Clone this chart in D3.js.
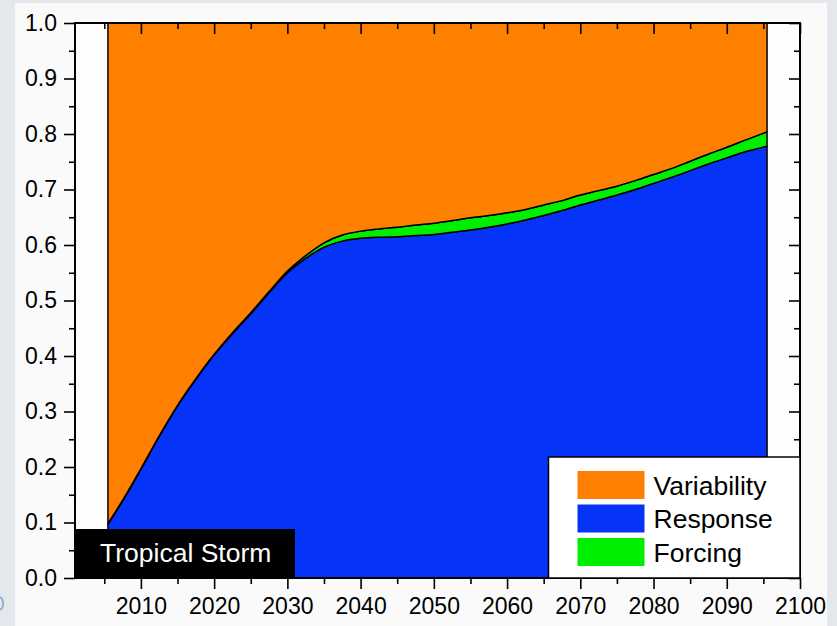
<!DOCTYPE html>
<html>
<head>
<meta charset="utf-8">
<script src="https://cdn.jsdelivr.net/npm/d3@7"></script>
<style>
  html, body { margin: 0; padding: 0; background: #e4e8ed; }
  svg { display: block; font-family: "Liberation Sans", Arial, sans-serif; }
</style>
</head>
<body>
<svg id="chart" width="837" height="626"></svg>
<script>
// Fraction of total uncertainty explained by each source, centred decades
const years = [2005.5, 2008, 2010, 2012.5, 2015, 2017.5, 2020, 2022.5, 2025, 2027.5,
  2030, 2032.5, 2035, 2037.5, 2040, 2042.5, 2045, 2047.5, 2050, 2052.5,
  2055, 2057.5, 2060, 2062.5, 2065, 2067.5, 2070, 2072.5, 2075, 2077.5,
  2080, 2082.5, 2085, 2087.5, 2090, 2092.5, 2095.5];

const response = [0.097, 0.150, 0.196, 0.255, 0.310, 0.358, 0.402, 0.440, 0.476, 0.514,
  0.550, 0.576, 0.596, 0.607, 0.612, 0.614, 0.615, 0.617, 0.619, 0.623,
  0.627, 0.632, 0.638, 0.645, 0.653, 0.662, 0.672, 0.681, 0.690, 0.700,
  0.711, 0.722, 0.734, 0.746, 0.757, 0.768, 0.778];

const forcing = [0.001, 0.001, 0.001, 0.001, 0.001, 0.001, 0.001, 0.002, 0.002, 0.002,
  0.003, 0.005, 0.008, 0.011, 0.013, 0.015, 0.017, 0.019, 0.020, 0.021,
  0.022, 0.021, 0.020, 0.019, 0.019, 0.018, 0.018, 0.017, 0.016, 0.016,
  0.016, 0.016, 0.017, 0.018, 0.019, 0.021, 0.026];

const variability = [0.902, 0.849, 0.803, 0.744, 0.689, 0.641, 0.597, 0.558, 0.522, 0.484,
  0.447, 0.419, 0.396, 0.382, 0.375, 0.371, 0.368, 0.364, 0.361, 0.356,
  0.351, 0.347, 0.342, 0.336, 0.328, 0.320, 0.310, 0.302, 0.294, 0.284,
  0.273, 0.262, 0.249, 0.236, 0.224, 0.211, 0.196];

const seriesNames = ["Response", "Forcing", "Variability"];
const legendOrder = ["Variability", "Response", "Forcing"];
const colors = { Variability: "#ff8000", Response: "#0533f7", Forcing: "#00ee00" };

const yTicks = [0.0, 0.1, 0.2, 0.3, 0.4, 0.5, 0.6, 0.7, 0.8, 0.9, 1.0];
const xTicks = [2010, 2020, 2030, 2040, 2050, 2060, 2070, 2080, 2090, 2100];
const panelLabel = "Tropical Storm";

const rows = years.map((yr, i) => ({
  year: yr, Response: response[i], Forcing: forcing[i], Variability: variability[i]
}));

const svg = d3.select("#chart");
const plot = { left: 75, right: 800, top: 23, bottom: 578 };

const x = d3.scaleLinear().domain([2001, 2100]).range([plot.left, plot.right]);
const y = d3.scaleLinear().domain([0, 1]).range([plot.bottom, plot.top]);

// page panel
svg.append("rect").attr("x", 15).attr("y", 3).attr("width", 812).attr("height", 623)
  .attr("fill", "#fafafa");
// small ring fragment at the left page edge
svg.append("path").attr("d", "M0,597 A5,7 0 0 1 0,610")
  .attr("fill", "none").attr("stroke", "#8fb3d9").attr("stroke-width", 2);

// plot background
svg.append("rect").attr("x", plot.left).attr("y", plot.top)
  .attr("width", plot.right - plot.left).attr("height", plot.bottom - plot.top)
  .attr("fill", "#fdfdfd");

// stacked areas
const stacked = d3.stack().keys(seriesNames)(rows);
const area = d3.area()
  .x(d => x(d.data.year))
  .y0(d => y(d[0]))
  .y1(d => y(d[1]))
  .curve(d3.curveMonotoneX);

svg.append("g").selectAll("path").data(stacked).join("path")
  .attr("d", area)
  .attr("fill", d => colors[d.key])
  .attr("stroke", "#000")
  .attr("stroke-width", 1.5)
  .attr("stroke-linejoin", "round");

// axes
const major = 11, minor = 6;
const yMinor = d3.range(0.05, 1, 0.1);
const xMinor = d3.range(2005, 2100, 10);
const fmtY = d3.format(".1f");

function styleAxis(g) {
  g.select(".domain").remove();
  g.selectAll("line").attr("stroke", "#000").attr("stroke-width", 1.6);
  g.selectAll("text").attr("font-size", 23).attr("fill", "#000")
    .attr("font-family", "Liberation Sans, Arial, sans-serif");
}

// left: outward ticks with labels
svg.append("g").attr("transform", `translate(${plot.left},0)`)
  .call(d3.axisLeft(y).tickValues(yTicks).tickSize(major).tickPadding(7).tickFormat(fmtY))
  .call(styleAxis);
svg.append("g").attr("transform", `translate(${plot.left},0)`)
  .call(d3.axisLeft(y).tickValues(yMinor).tickSize(minor).tickFormat(""))
  .call(styleAxis);

// right: inward ticks
svg.append("g").attr("transform", `translate(${plot.right},0)`)
  .call(d3.axisRight(y).tickValues(yTicks).tickSize(-major).tickFormat(""))
  .call(styleAxis);
svg.append("g").attr("transform", `translate(${plot.right},0)`)
  .call(d3.axisRight(y).tickValues(yMinor).tickSize(-minor).tickFormat(""))
  .call(styleAxis);

// bottom: outward ticks with labels
svg.append("g").attr("transform", `translate(0,${plot.bottom})`)
  .call(d3.axisBottom(x).tickValues(xTicks).tickSize(major).tickPadding(9).tickFormat(d3.format("d")))
  .call(styleAxis);
svg.append("g").attr("transform", `translate(0,${plot.bottom})`)
  .call(d3.axisBottom(x).tickValues(xMinor).tickSize(minor).tickFormat(""))
  .call(styleAxis);

// top: inward ticks
svg.append("g").attr("transform", `translate(0,${plot.top})`)
  .call(d3.axisTop(x).tickValues(xTicks).tickSize(-major).tickFormat(""))
  .call(styleAxis);
svg.append("g").attr("transform", `translate(0,${plot.top})`)
  .call(d3.axisTop(x).tickValues(xMinor).tickSize(-minor).tickFormat(""))
  .call(styleAxis);

// frame
svg.append("rect").attr("x", plot.left).attr("y", plot.top)
  .attr("width", plot.right - plot.left).attr("height", plot.bottom - plot.top)
  .attr("fill", "none").attr("stroke", "#000").attr("stroke-width", 2);

// legend
const legend = svg.append("g").attr("transform", "translate(548.5,457)");
legend.append("rect").attr("width", 251.5).attr("height", 121)
  .attr("fill", "#ffffff").attr("stroke", "#000").attr("stroke-width", 1.5);
const item = legend.selectAll("g.item").data(legendOrder).join("g")
  .attr("class", "item")
  .attr("transform", (d, i) => `translate(0,${14 + i * 33.5})`);
item.append("rect").attr("x", 29).attr("width", 67).attr("height", 28)
  .attr("fill", d => colors[d]);
item.append("text").attr("x", 105).attr("y", 23.5)
  .attr("font-size", 26.5).attr("fill", "#000").text(d => d);

// panel label
svg.append("rect").attr("x", plot.left).attr("y", 529)
  .attr("width", 220).attr("height", plot.bottom - 529).attr("fill", "#000");
svg.append("text").attr("x", 100).attr("y", 562).attr("font-size", 26.5)
  .attr("fill", "#fff").text(panelLabel);
</script>
</body>
</html>
